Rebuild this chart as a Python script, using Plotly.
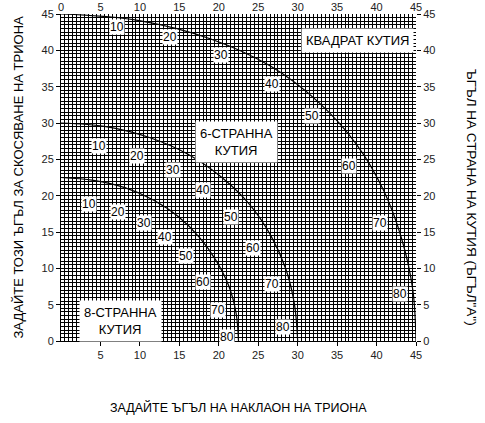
"""
Таблица за скосяване: ъгъл на наклон / скосяване за 4-, 6- и 8-странни кутии.
"""
import plotly.graph_objects as go

# точки по кривите (наклон x, скосяване y), отчетени от графиката
SQ_X = [0, 9.9, 18.9, 26.6, 32.7, 37.5, 40.9, 43.2, 44.6, 45]
SQ_Y = [45, 44.1, 41.6, 37.8, 32.8, 27.0, 20.7, 14.0, 7.0, 0]
HEX_X = [0, 5.7, 11.2, 16.1, 20.4, 23.9, 26.6, 28.5, 29.6, 30]
HEX_Y = [30, 29.5, 28.0, 25.7, 22.5, 18.8, 14.5, 9.9, 5.0, 0]
OCT_X = [0, 4.1, 8.1, 11.7, 14.9, 17.6, 19.7, 21.3, 22.2, 22.5]
OCT_Y = [22.5, 22.1, 21.1, 19.4, 17.1, 14.2, 11.0, 7.5, 3.8, 0]

# етикети на ъгъла на страната
ANGLES = ['10', '20', '30', '40', '50', '60', '70', '80']
SQ_LBL_X = [7.1, 13.8, 20.3, 26.7, 31.8, 36.5, 40.4, 43.0]
SQ_LBL_Y = [43.2, 41.8, 39.3, 35.4, 30.9, 24.1, 16.2, 6.4]
HEX_LBL_X = [4.8, 9.6, 14.2, 18.0, 21.5, 24.4, 26.8, 28.1]
HEX_LBL_Y = [26.9, 25.4, 23.6, 20.8, 17.1, 12.8, 7.8, 1.9]
OCT_LBL_X = [3.6, 7.2, 10.5, 13.2, 15.9, 18.0, 19.9, 21.0]
OCT_LBL_Y = [18.8, 17.7, 16.3, 14.3, 11.7, 8.1, 4.2, 0.6]

TICKS = list(range(0, 50, 5))
FONT = 'Liberation Sans, Arial, sans-serif'

fig = go.Figure()
for xs, ys in [(SQ_X, SQ_Y), (HEX_X, HEX_Y), (OCT_X, OCT_Y)]:
    fig.add_trace(go.Scatter(
        x=xs, y=ys, mode='lines',
        line=dict(color='black', width=1.2, shape='spline'),
        showlegend=False, hoverinfo='skip',
    ))

# празна следа за горната и дясната ос
fig.add_trace(go.Scatter(x=[0, 45], y=[0, 45], xaxis='x2', yaxis='y2',
                         mode='markers', marker=dict(opacity=0),
                         showlegend=False, hoverinfo='skip'))

for lx, ly in [(SQ_LBL_X, SQ_LBL_Y), (HEX_LBL_X, HEX_LBL_Y), (OCT_LBL_X, OCT_LBL_Y)]:
    for t, x, y in zip(ANGLES, lx, ly):
        fig.add_annotation(x=x, y=y, text=t, showarrow=False,
                           bgcolor='white', borderpad=0,
                           font=dict(size=12, color='black', family=FONT))

boxes = [
    (37.6, 41.3, 'КВАДРАТ КУТИЯ'),
    (22.3, 27.4, '6-СТРАННА<br>КУТИЯ'),
    (7.5, 2.7, '8-СТРАННА<br>КУТИЯ'),
]
for x, y, t in boxes:
    fig.add_annotation(x=x, y=y, text=t, showarrow=False, bgcolor='white',
                       borderpad=4, font=dict(size=13, color='black', family=FONT))

titles = [
    (-0.121, 0.5, -90, 13, 'ЗАДАЙТЕ ТОЗИ ЪГЪЛ ЗА СКОСЯВАНЕ НА ТРИОНА'),
    (1.158, 0.44, 90, 13.5, 'ЪГЪЛ НА СТРАНА НА КУТИЯ (ЪГЪЛ"А")'),
    (0.5, -0.202, 0, 12.5, 'ЗАДАЙТЕ ЪГЪЛ НА НАКЛАОН НА ТРИОНА'),
]
for x, y, a, s, t in titles:
    fig.add_annotation(x=x, y=y, xref='paper', yref='paper', text=t,
                       textangle=a, showarrow=False,
                       xanchor='center', yanchor='middle',
                       font=dict(size=s, color='black', family=FONT))

grid = dict(showgrid=True, gridcolor='black', gridwidth=1,
            minor=dict(dtick=0.5, showgrid=True, gridcolor='black', gridwidth=1),
            zeroline=False, showline=True, linecolor='black', linewidth=1,
            ticks='outside', ticklen=4, tickcolor='black', automargin=False,
            ticklabeloverflow='allow',
            tickfont=dict(size=11, color='#222', family=FONT))

fig.update_layout(
    width=485, height=423,
    margin=dict(l=61, r=69, t=14, b=82),
    paper_bgcolor='white', plot_bgcolor='white',
    xaxis=dict(range=[0, 45], tickvals=TICKS[1:], **grid),
    yaxis=dict(range=[0, 45], tickvals=TICKS, **grid),
    xaxis2=dict(range=[0, 45], overlaying='x', side='top', tickvals=TICKS,
                showgrid=False, showline=False, ticks='', automargin=False,
                ticklabeloverflow='allow',
                tickfont=dict(size=11, color='#222', family=FONT)),
    yaxis2=dict(range=[0, 45], overlaying='y', side='right', tickvals=TICKS,
                showgrid=False, showline=False, ticks='outside', ticklen=4,
                tickcolor='black', automargin=False, ticklabeloverflow='allow',
                tickfont=dict(size=11, color='#222', family=FONT)),
)

# страницата без отстъп, за да пасне на прозореца
fig.write_html('out.html', config={'displayModeBar': False},
               post_script="document.body.style.margin='0px';")
